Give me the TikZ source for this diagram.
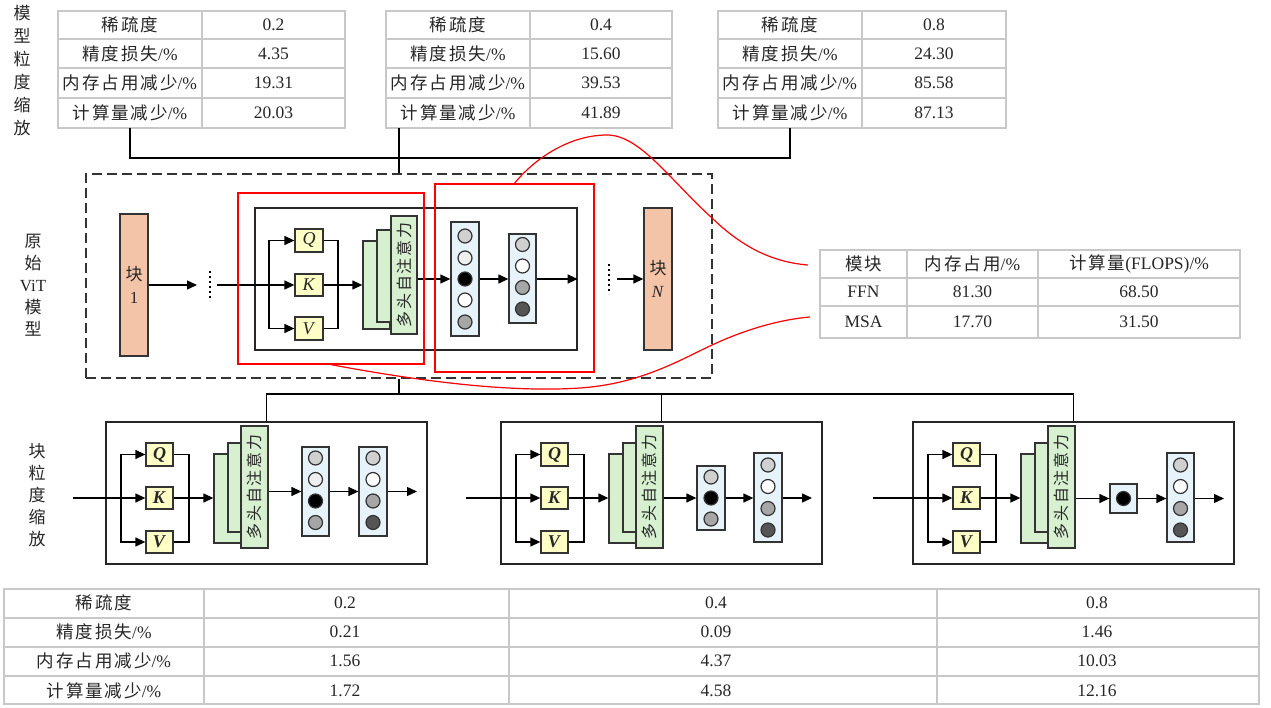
\documentclass[tikz,border=0pt]{standalone}
\usepackage{fontspec}
\setmainfont{Liberation Serif}
\newfontfamily\cjk[LetterSpace=11]{Noto Sans CJK SC}
\newcommand\zh[1]{{\cjk #1}}
\usetikzlibrary{arrows.meta,fit}
\definecolor{orangefill}{HTML}{F4C4A8}
\definecolor{qkvfill}{HTML}{FDFDC6}
\definecolor{attfill}{HTML}{D6F0D0}
\definecolor{colfill}{HTML}{E7F3FA}
\definecolor{tabgray}{HTML}{C8C8C8}
\definecolor{edge}{HTML}{333333}
\definecolor{txt}{HTML}{262626}
\definecolor{cA}{HTML}{D0D0D0}
\definecolor{cB}{HTML}{EFEFEF}
\definecolor{cC}{HTML}{A6A6A6}
\definecolor{cD}{HTML}{555555}
\tikzset{
  box/.style={draw=edge, line width=1.3pt, inner sep=0pt},
  tabframe/.style={draw=tabgray, line width=1.5pt, inner sep=0pt},
  tabline/.style={draw=tabgray, line width=1.5pt},
  tabtxt/.style={font=\fontsize{17.5}{20}\selectfont, text=txt, inner sep=0pt},
  lab/.style={font=\fontsize{17}{23}\selectfont, align=center, text=txt, inner sep=0pt},
  blockbox/.style={box, fill=orangefill},
  blocktxt/.style={align=center, text=txt, inner sep=0pt, font=\fontsize{17}{23}\selectfont},
  qkvbox/.style={box, fill=qkvfill},
  qkvtxt/.style={text=txt, inner sep=0pt, font=\fontsize{18}{18}\selectfont},
  attbox/.style={box, fill=attfill},
  attlabel/.style={rotate=90, font=\fontsize{16}{16}\selectfont, text=txt, inner sep=0pt},
  colbox/.style={box, fill=colfill},
  neuron/.style={circle, draw=edge, line width=1.2pt, minimum size=14pt, inner sep=0pt, fill=#1},
  frame/.style={draw=black!85, line width=1.3pt, inner sep=0pt},
  dashframe/.style={draw=edge, line width=1.3pt, dash pattern=on 10pt off 5pt, inner sep=0pt},
  redframe/.style={draw=red, line width=1.3pt, inner sep=0pt},
  conn/.style={draw=black, line width=1.3pt},
  arr/.style={conn, -{Triangle[length=10pt,width=9pt]}},
  redcurve/.style={draw=red, line width=1.2pt},
  dotcol/.style={line width=1.8pt, dash pattern=on 1.6pt off 3.4pt},
}
\newcommand\neurons[3]{%
  \foreach \yy/\cc [count=\k] in {#3} \node[neuron=\cc] (#1\k) at (#2,\yy) {};}
\newcommand\toptab[8]{%
  \node[tabframe, fit={(#2,11) (#4,128)}] (#1) {};
  \draw[tabline] (#3,11) -- (#3,128);
  \foreach \yy in {39,68,98} \draw[tabline] (#2,\yy) -- (#4,\yy);
  \node[tabtxt] (#1l1) at ({(#2+#3)/2},25) {\zh{稀疏度}};
  \node[tabtxt] (#1l2) at ({(#2+#3)/2},53.5) {\zh{精度损失}/\%};
  \node[tabtxt] (#1l3) at ({(#2+#3)/2},83) {\zh{内存占用减少}/\%};
  \node[tabtxt] (#1l4) at ({(#2+#3)/2},113) {\zh{计算量减少}/\%};
  \node[tabtxt] (#1v1) at ({(#3+#4)/2},25) {#5};
  \node[tabtxt] (#1v2) at ({(#3+#4)/2},53.5) {#6};
  \node[tabtxt] (#1v3) at ({(#3+#4)/2},83) {#7};
  \node[tabtxt] (#1v4) at ({(#3+#4)/2},113) {#8};
}
\newcommand\lowblock[3]{%
  \node[frame, fit={(#2,422) ({#2+321},564)}] (#1) {};
  \node[qkvbox, fit={({#2+40},443) ({#2+67},466)}] (#1Q) {};
  \node[qkvbox, fit={({#2+40},487) ({#2+67},509)}] (#1K) {};
  \node[qkvbox, fit={({#2+40},531) ({#2+67},553)}] (#1V) {};
  \node[qkvtxt] (#1Qt) at (#1Q.center) {\textbf{\textit{Q}}};
  \node[qkvtxt] (#1Kt) at (#1K.center) {\textbf{\textit{K}}};
  \node[qkvtxt] (#1Vt) at (#1V.center) {\textbf{\textit{V}}};
  \node[attbox, fit={({#2+108},454) ({#2+150},543)}] (#1A3) {};
  \node[attbox, fit={({#2+122},443) ({#2+150},532)}] (#1A2) {};
  \node[attbox, fit={({#2+135},426) ({#2+162},548)}] (#1A1) {};
  \node[attlabel] (#1AL) at (#1A1.center) {\zh{多头自注意力}};
  \coordinate (#1in) at (#3,498);
  \coordinate (#1s) at ({#2+15},498);
  \draw[arr] (#1in) -- (#1K.west);
  \draw[arr] (#1s) |- (#1Q.west);
  \draw[arr] (#1s) |- (#1V.west);
  \draw[conn] (#1Q.east) -| ({#2+83},498) |- (#1V.east);
  \draw[arr] (#1K.east) -- (#1K.east -| #1A3.west);
}
\begin{document}
\begin{tikzpicture}[x=1pt,y=-1pt]
\useasboundingbox (0,0) rectangle (1271,708);

% side labels
\node[lab] (labA) at (22,70.5) {\zh{模}\\\zh{型}\\\zh{粒}\\\zh{度}\\\zh{缩}\\\zh{放}};
\node[lab, font=\fontsize{17}{22}\selectfont] (labB) at (33,285.5) {\zh{原}\\\zh{始}\\ViT\\\zh{模}\\\zh{型}};
\node[lab, font=\fontsize{17}{22}\selectfont] (labC) at (37,495.5) {\zh{块}\\\zh{粒}\\\zh{度}\\\zh{缩}\\\zh{放}};

% top tables
\toptab{tabA}{58}{202}{345}{0.2}{4.35}{19.31}{20.03}
\toptab{tabB}{386}{530}{672}{0.4}{15.60}{39.53}{41.89}
\toptab{tabC}{718}{862}{1006}{0.8}{24.30}{85.58}{87.13}

% original ViT
\node[dashframe, fit={(86,174) (712,378)}] (dash) {};
\node[blockbox, fit={(120,214) (148,356)}] (b1) {};
\node[blocktxt] (b1t) at (b1.center) {\zh{块}\\1};
\node[blockbox, fit={(644,208) (672,350)}] (bN) {};
\node[blocktxt] (bNt) at (bN.center) {\zh{块}\\\textit{N}};
\node[frame, fit={(255,208) (577,350)}] (vin) {};
\node[qkvbox, fit={(295,229) (323,252)}] (vQ) {};
\node[qkvbox, fit={(295,274) (323,296)}] (vK) {};
\node[qkvbox, fit={(295,317) (323,340)}] (vV) {};
\node[qkvtxt] (vQt) at (vQ.center) {\textit{Q}};
\node[qkvtxt] (vKt) at (vK.center) {\textit{K}};
\node[qkvtxt] (vVt) at (vV.center) {\textit{V}};
\node[attbox, fit={(363,241) (390,329)}] (vA3) {};
\node[attbox, fit={(377,230) (400,322)}] (vA2) {};
\node[attbox, fit={(391,216) (417,334)}] (vA1) {};
\node[attlabel] (vAL) at (vA1.center) {\zh{多头自注意力}};
\node[colbox, fit={(451,222) (479,336)}] (vc1) {};
\neurons{vc1n}{465}{236/cA,258/cB,279/black,300/white,322/cC}
\node[colbox, fit={(509,234) (536,323)}] (vc2) {};
\neurons{vc2n}{522.5}{244.5/cA,266/white,287.5/cC,309/cD}

\coordinate (d1w) at (197,285);
\coordinate (d1e) at (217,285);
\draw[dotcol] (210,271) -- (210,301);
\draw[arr] (b1.east) -- (d1w);
\draw[arr] (d1e) -- (vK.west);
\coordinate (vs) at (269,285);
\draw[arr] (vs) |- (vQ.west);
\draw[arr] (vs) |- (vV.west);
\draw[conn] (vQ.east) -| (338,285) |- (vV.east);
\draw[arr] (vK.east) -- (vK.east -| vA3.west);
\draw[arr] (vA1.east |- vc1.west) -- (vc1.west);
\draw[arr] (vc1.east) -- (vc1.east -| vc2.west);
\draw[arr] (vc2.east |- vc1.east) -- (vin.east |- vc1.east);
\draw[dotcol] (609,264) -- (609,294);
\coordinate (d2e) at (617,279);
\draw[arr] (d2e) -- (bN.west);

\node[redframe, fit={(238,193) (424,364)}] (rb1) {};
\node[redframe, fit={(435,184) (594,372)}] (rb2) {};

% connectors from top tables
\coordinate (tAc) at (130,128);
\coordinate (tBc) at (399,128);
\coordinate (tCc) at (790,128);
\draw[conn] (tAc) -- ++(0,30) -| (tCc);
\draw[conn] (tBc) -- (tBc |- dash.north);

% module table
\node[tabframe, fit={(820,250) (1240,338)}] (ftab) {};
\draw[tabline] (907,250) -- (907,338);
\draw[tabline] (1038,250) -- (1038,338);
\draw[tabline] (820,278) -- (1240,278);
\draw[tabline] (820,306) -- (1240,306);
\node[tabtxt] (f11) at (863.5,264) {\zh{模块}};
\node[tabtxt] (f12) at (972.5,264) {\zh{内存占用}/\%};
\node[tabtxt] (f13) at (1139,264) {\zh{计算量}(FLOPS)/\%};
\node[tabtxt] (f21) at (863.5,292) {FFN};
\node[tabtxt] (f22) at (972.5,292) {81.30};
\node[tabtxt] (f23) at (1139,292) {68.50};
\node[tabtxt] (f31) at (863.5,322) {MSA};
\node[tabtxt] (f32) at (972.5,322) {17.70};
\node[tabtxt] (f33) at (1139,322) {31.50};

% red curves
\coordinate (e1) at (808,265);
\coordinate (e2) at (810,317);
\draw[redcurve] (rb2.north) .. controls (535,158) and (570,135) .. (607,135)
  .. controls (640,135) and (670,180) .. (712,218)
  .. controls (740,245) and (770,262) .. (e1);
\draw[redcurve] (rb1.south) .. controls (440,385) and (520,392) .. (580,388)
  .. controls (640,384) and (680,360) .. (712,345)
  .. controls (740,332) and (775,320) .. (e2);

% lower blocks
\lowblock{lb1}{106}{73}
\lowblock{lb2}{501}{466}
\lowblock{lb3}{913}{873}

\node[colbox, fit={(302,447) (329,536)}] (lb1c1) {};
\neurons{lb1c1n}{315.5}{458/cA,479.5/cB,501/black,522.5/cC}
\node[colbox, fit={(359,447) (387,536)}] (lb1c2) {};
\neurons{lb1c2n}{373}{458/cA,479.5/white,501/cC,522.5/cD}
\draw[arr] (lb1A1.east |- lb1c1.west) -- (lb1c1.west);
\draw[arr] (lb1c1.east) -- (lb1c1.east -| lb1c2.west);
\coordinate (lb1out) at (417,491.5);
\draw[arr] (lb1c2.east |- lb1c1.east) -- (lb1out);

\node[colbox, fit={(697,466) (725,530)}] (lb2c1) {};
\neurons{lb2c1n}{711}{477/cA,498/black,519/cC}
\node[colbox, fit={(754,453) (782,542)}] (lb2c2) {};
\neurons{lb2c2n}{768}{465/cA,486.5/white,508.5/cC,530/cD}
\draw[arr] (lb2A1.east |- lb2c1.west) -- (lb2c1.west);
\draw[arr] (lb2c1.east) -- (lb2c1.east -| lb2c2.west);
\coordinate (lb2out) at (812,498);
\draw[arr] (lb2c2.east |- lb2c1.east) -- (lb2out);

\node[colbox, fit={(1110,484) (1137,513)}] (lb3c1) {};
\node[neuron=black] (lb3c1n1) at (lb3c1.center) {};
\node[colbox, fit={(1167,453) (1194,542)}] (lb3c2) {};
\neurons{lb3c2n}{1180.5}{465/cA,486.5/white,508.5/cC,530/cD}
\draw[arr] (lb3A1.east |- lb3c1.west) -- (lb3c1.west);
\draw[arr] (lb3c1.east) -- (lb3c1.east -| lb3c2.west);
\coordinate (lb3out) at (1224,498.5);
\draw[arr] (lb3c2.east |- lb3c1.east) -- (lb3out);

% connectors to lower blocks
\coordinate (dC) at (dash.south -| tBc);
\coordinate (hy) at (0,394);
\draw[conn] (dC) -- (dC |- hy);
\draw[conn] (lb1.north) -- (lb1.north |- hy) -- (lb3.north |- hy) -- (lb3.north);
\draw[conn] (lb2.north) -- (lb2.north |- hy);

% bottom table
\node[tabframe, fit={(4,589) (1259,704)}] (btab) {};
\foreach \xx in {204,509,937} \draw[tabline] (\xx,589) -- (\xx,704);
\foreach \yy in {618,647,676} \draw[tabline] (4,\yy) -- (1259,\yy);
\node[tabtxt] (bt11) at (104,603) {\zh{稀疏度}};
\node[tabtxt] (bt21) at (104,632) {\zh{精度损失}/\%};
\node[tabtxt] (bt31) at (104,661) {\zh{内存占用减少}/\%};
\node[tabtxt] (bt41) at (104,690.5) {\zh{计算量减少}/\%};
\node[tabtxt] (bt12) at (345,603) {0.2};
\node[tabtxt] (bt22) at (345,632) {0.21};
\node[tabtxt] (bt32) at (345,661) {1.56};
\node[tabtxt] (bt42) at (345,690.5) {1.72};
\node[tabtxt] (bt13) at (716,603) {0.4};
\node[tabtxt] (bt23) at (716,632) {0.09};
\node[tabtxt] (bt33) at (716,661) {4.37};
\node[tabtxt] (bt43) at (716,690.5) {4.58};
\node[tabtxt] (bt14) at (1097,603) {0.8};
\node[tabtxt] (bt24) at (1097,632) {1.46};
\node[tabtxt] (bt34) at (1097,661) {10.03};
\node[tabtxt] (bt44) at (1097,690.5) {12.16};
\end{tikzpicture}
\end{document}
